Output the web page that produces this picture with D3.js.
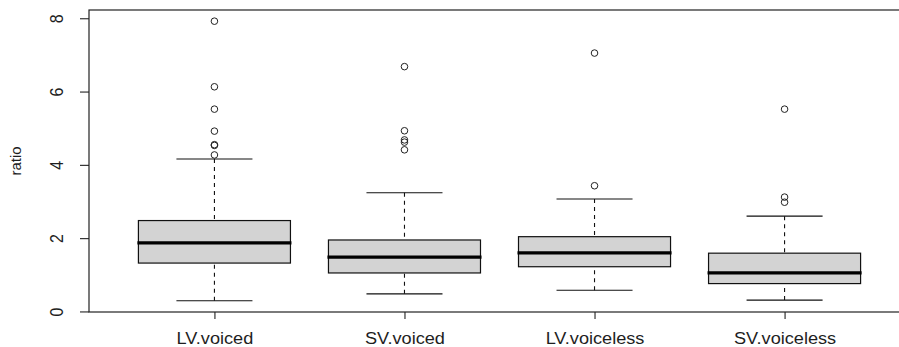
<!DOCTYPE html>
<html>
<head>
<meta charset="utf-8">
<script src="https://cdn.jsdelivr.net/npm/d3@7"></script>
<style>
  html, body { margin: 0; padding: 0; background: #fff; }
  svg { display: block; }
  text { font-family: "Liberation Sans", Arial, sans-serif; fill: #1e1e1e; }
</style>
</head>
<body>
<svg id="chart" width="899" height="347"></svg>
<script>
// Box summaries per group: lower whisker, Q1, median, Q3, upper whisker
const categories = ["LV.voiced", "SV.voiced", "LV.voiceless", "SV.voiceless"];
const whiskerLow  = [0.29, 0.48, 0.58, 0.31];
const q1          = [1.32, 1.05, 1.22, 0.76];
const median      = [1.87, 1.48, 1.60, 1.05];
const q3          = [2.48, 1.95, 2.04, 1.59];
const whiskerHigh = [4.16, 3.24, 3.07, 2.60];
// Points beyond the whiskers
const outliers = [
  [7.92, 6.13, 5.52, 4.92, 4.55, 4.53, 4.27],
  [6.68, 4.93, 4.68, 4.62, 4.41],
  [7.05, 3.43],
  [5.52, 3.12, 2.98]
];
const yTicks = [0, 2, 4, 6, 8];
const yLabel = "ratio";

const svg = d3.select("#chart");
const plot = { left: 89, right: 910, top: 10, bottom: 312 };

// R-style axis limits: data range padded by 4% on each side
const allVals = whiskerLow.concat(whiskerHigh, outliers.flat());
const yMin = d3.min(allVals), yMax = d3.max(allVals);
const yPad = (yMax - yMin) * 0.04;
const y = d3.scaleLinear()
  .domain([yMin - yPad, yMax + yPad])
  .range([plot.bottom, plot.top]);

const n = categories.length;
const xPad = n * 0.04;
const x = d3.scaleLinear()
  .domain([0.5 - xPad, n + 0.5 + xPad])
  .range([plot.left, plot.right]);

const boxW = x(1.4) - x(1);     // half of 0.8 box width
const capW = boxW / 2;

const groups = categories.map((c, i) => ({
  name: c, pos: i + 1,
  lo: whiskerLow[i], q1: q1[i], med: median[i], q3: q3[i], hi: whiskerHigh[i],
  out: outliers[i]
}));

const g = svg.append("g");

// whiskers (dashed stems)
g.selectAll(".stem-low").data(groups).join("line")
  .attr("x1", d => x(d.pos)).attr("x2", d => x(d.pos))
  .attr("y1", d => y(d.lo)).attr("y2", d => y(d.q1))
  .attr("stroke", "#111").attr("stroke-width", 1.1).attr("stroke-dasharray", "4,4");
g.selectAll(".stem-high").data(groups).join("line")
  .attr("x1", d => x(d.pos)).attr("x2", d => x(d.pos))
  .attr("y1", d => y(d.hi)).attr("y2", d => y(d.q3))
  .attr("stroke", "#111").attr("stroke-width", 1.1).attr("stroke-dasharray", "4,4");

// whisker caps
["lo", "hi"].forEach(k => {
  g.selectAll(".cap-" + k).data(groups).join("line")
    .attr("x1", d => x(d.pos) - capW).attr("x2", d => x(d.pos) + capW)
    .attr("y1", d => y(d[k])).attr("y2", d => y(d[k]))
    .attr("stroke", "#111").attr("stroke-width", 1.1);
});

// boxes
g.selectAll(".box").data(groups).join("rect")
  .attr("x", d => x(d.pos) - boxW).attr("width", 2 * boxW)
  .attr("y", d => y(d.q3)).attr("height", d => y(d.q1) - y(d.q3))
  .attr("fill", "#d3d3d3").attr("stroke", "#111").attr("stroke-width", 1.2);

// medians
g.selectAll(".med").data(groups).join("line")
  .attr("x1", d => x(d.pos) - boxW - 1).attr("x2", d => x(d.pos) + boxW + 1)
  .attr("y1", d => y(d.med)).attr("y2", d => y(d.med))
  .attr("stroke", "#000").attr("stroke-width", 3.2);

// outliers
groups.forEach(d => {
  g.selectAll(null).data(d.out).join("circle")
    .attr("cx", x(d.pos)).attr("cy", v => y(v)).attr("r", 3.3)
    .attr("fill", "none").attr("stroke", "#222").attr("stroke-width", 1);
});

// plot frame
svg.append("rect")
  .attr("x", plot.left).attr("y", plot.top)
  .attr("width", plot.right - plot.left).attr("height", plot.bottom - plot.top)
  .attr("fill", "none").attr("stroke", "#222").attr("stroke-width", 1.2);

// left axis
const yAxis = svg.append("g")
  .attr("transform", `translate(${plot.left},0)`)
  .call(d3.axisLeft(y).tickValues(yTicks).tickSize(9).tickFormat(d3.format("d")));
yAxis.select(".domain").remove();
yAxis.selectAll(".tick line").attr("stroke", "#222").attr("stroke-width", 1.1);
yAxis.selectAll(".tick text")
  .attr("x", null).attr("dy", null)
  .attr("text-anchor", "middle")
  .attr("transform", "translate(-32,0) rotate(-90) translate(0,6) scale(1,1.1)")
  .style("font-size", "16px");

// bottom axis
const xAxis = svg.append("g")
  .attr("transform", `translate(0,${plot.bottom})`)
  .call(d3.axisBottom(x).tickValues(d3.range(1, n + 1)).tickSize(7)
    .tickFormat(i => categories[i - 1]));
xAxis.select(".domain").remove();
xAxis.selectAll(".tick line").attr("stroke", "#222").attr("stroke-width", 1.1);
xAxis.selectAll(".tick text")
  .attr("y", null).attr("dy", null)
  .attr("transform", "translate(0,32) scale(1.1,1)")
  .style("font-size", "16.5px");

// y label
svg.append("text")
  .attr("transform", "translate(21,161) rotate(-90)")
  .attr("text-anchor", "middle")
  .style("font-size", "15px")
  .text(yLabel);
</script>
</body>
</html>
